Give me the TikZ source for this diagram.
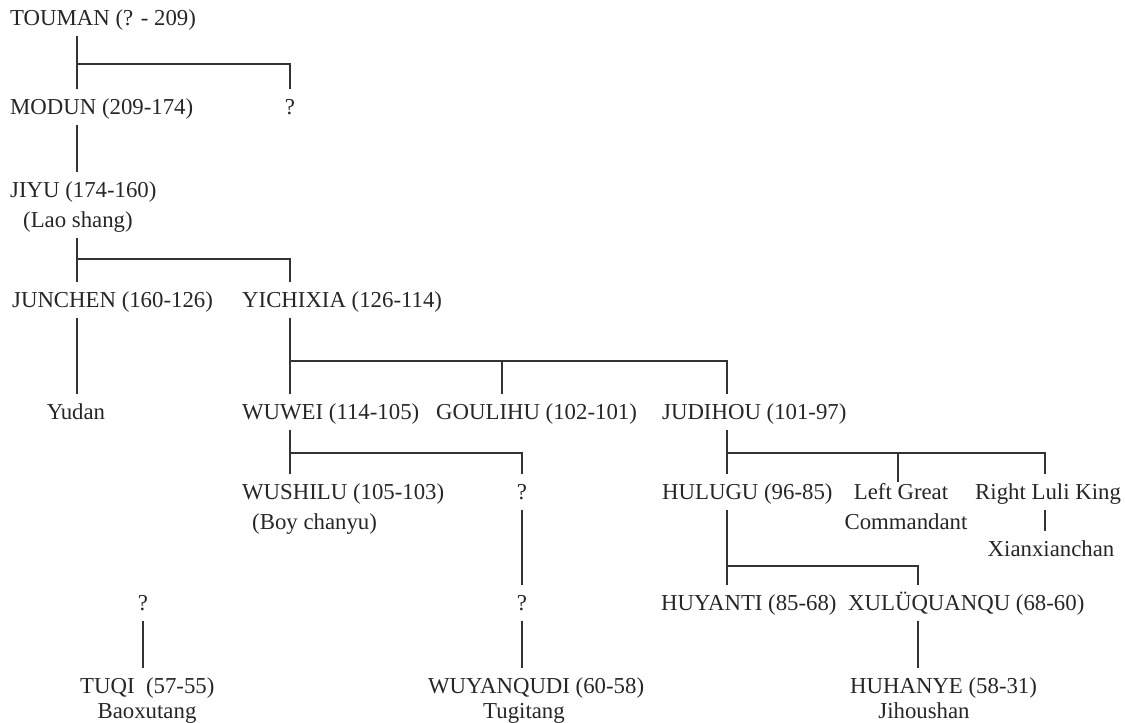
\documentclass[tikz,border=0pt]{standalone}
\usepackage{fontspec}
\setmainfont{Liberation Serif}
\begin{document}
\begin{tikzpicture}[x=1pt,y=-1pt,
  lbl/.style={inner xsep=0pt, inner ysep=10pt, text height=15pt, text depth=0pt,
              anchor=west, text=black!85, font=\fontsize{22.8pt}{26pt}\selectfont},
  ctr/.style={lbl, anchor=center},
  conn/.style={draw=black!80, line width=1.3pt}]
\useasboundingbox (0,0) rectangle (1125,723);
% trunk x positions
\coordinate (t77) at (77,0);
\coordinate (t290) at (290,0);
\coordinate (t502) at (502,0);
\coordinate (t727) at (727,0);
\coordinate (t898) at (898,0);
\coordinate (t918) at (918,0);
\coordinate (t1045) at (1045,0);
% hub points
\coordinate (hA) at (77,64);
\coordinate (hB) at (77,259);
\coordinate (hC) at (290,361);
\coordinate (hD) at (290,453);
\coordinate (hE) at (727,453);
\coordinate (hF) at (727,566);
% nodes
\node[lbl] (touman) at (10,18) {TOUMAN (? - 209)};
\node[lbl] (modun) at (10,107) {MODUN (209-174)};
\node[ctr] (q1) at (290,107) {?};
\node[lbl] (jiyu) at (10,190) {JIYU (174-160)};
\node[lbl] (lao) at (23,220) {(Lao shang)};
\node[lbl] (junchen) at (12,300) {JUNCHEN (160-126)};
\node[lbl] (yichixia) at (242,300) {YICHIXIA (126-114)};
\node[ctr] (yudan) at (76,412) {Yudan};
\node[lbl] (wuwei) at (242,412) {WUWEI (114-105)};
\node[lbl] (goulihu) at (436,412) {GOULIHU (102-101)};
\node[lbl] (judihou) at (662,412) {JUDIHOU (101-97)};
\node[lbl] (wushilu) at (242,492) {WUSHILU (105-103)};
\node[lbl] (boy) at (252,522) {(Boy chanyu)};
\node[ctr] (q2) at (522,492) {?};
\node[lbl] (hulugu) at (662,492) {HULUGU (96-85)};
\node[ctr, inner ysep=2.5pt] (leftgreat) at (901,492) {Left Great};
\node[ctr] (commandant) at (906,522) {Commandant};
\node[lbl] (rightluli) at (975,492) {Right Luli King};
\node[ctr] (xian) at (1051,549) {Xianxianchan};
\node[ctr] (q4) at (143,603) {?};
\node[ctr] (q3) at (522,603) {?};
\node[lbl] (huyanti) at (661,603) {HUYANTI (85-68)};
\node[lbl] (xulu) at (848,603) {XULÜQUANQU (68-60)};
\node[lbl] (tuqi) at (80,686) {TUQI\ \ (57-55)};
\node[ctr] (baoxu) at (147,711) {Baoxutang};
\node[lbl] (wuyan) at (428,686) {WUYANQUDI (60-58)};
\node[ctr] (tugi) at (524,711) {Tugitang};
\node[lbl] (huhanye) at (850,686) {HUHANYE (58-31)};
\node[ctr] (jihou) at (924,711) {Jihoushan};
% connectors
\draw[conn] (touman.south -| t77) -- (modun.north -| t77);
\draw[conn] (hA) -| (q1.north);
\draw[conn] (modun.south -| t77) -- (jiyu.north -| t77);
\draw[conn] (lao.south -| t77) -- (junchen.north -| t77);
\draw[conn] (hB) -| (yichixia.north -| t290);
\draw[conn] (junchen.south -| t77) -- (yudan.north -| t77);
\draw[conn] (yichixia.south -| t290) -- (wuwei.north -| t290);
\draw[conn] (hC) -| (judihou.north -| t727);
\draw[conn] (t502 |- hC) -- (goulihu.north -| t502);
\draw[conn] (wuwei.south -| t290) -- (wushilu.north -| t290);
\draw[conn] (hD) -| (q2.north);
\draw[conn] (judihou.south -| t727) -- (hulugu.north -| t727);
\draw[conn] (hE) -| (rightluli.north -| t1045);
\draw[conn] (t898 |- hE) -- (leftgreat.north -| t898);
\draw[conn] (rightluli.south -| t1045) -- (xian.north -| t1045);
\draw[conn] (q2.south) -- (q3.north);
\draw[conn] (q3.south) -- (wuyan.north -| q3);
\draw[conn] (q4.south) -- (tuqi.north -| q4);
\draw[conn] (hulugu.south -| t727) -- (huyanti.north -| t727);
\draw[conn] (hF) -| (xulu.north -| t918);
\draw[conn] (xulu.south -| t918) -- (huhanye.north -| t918);
\end{tikzpicture}
\end{document}
